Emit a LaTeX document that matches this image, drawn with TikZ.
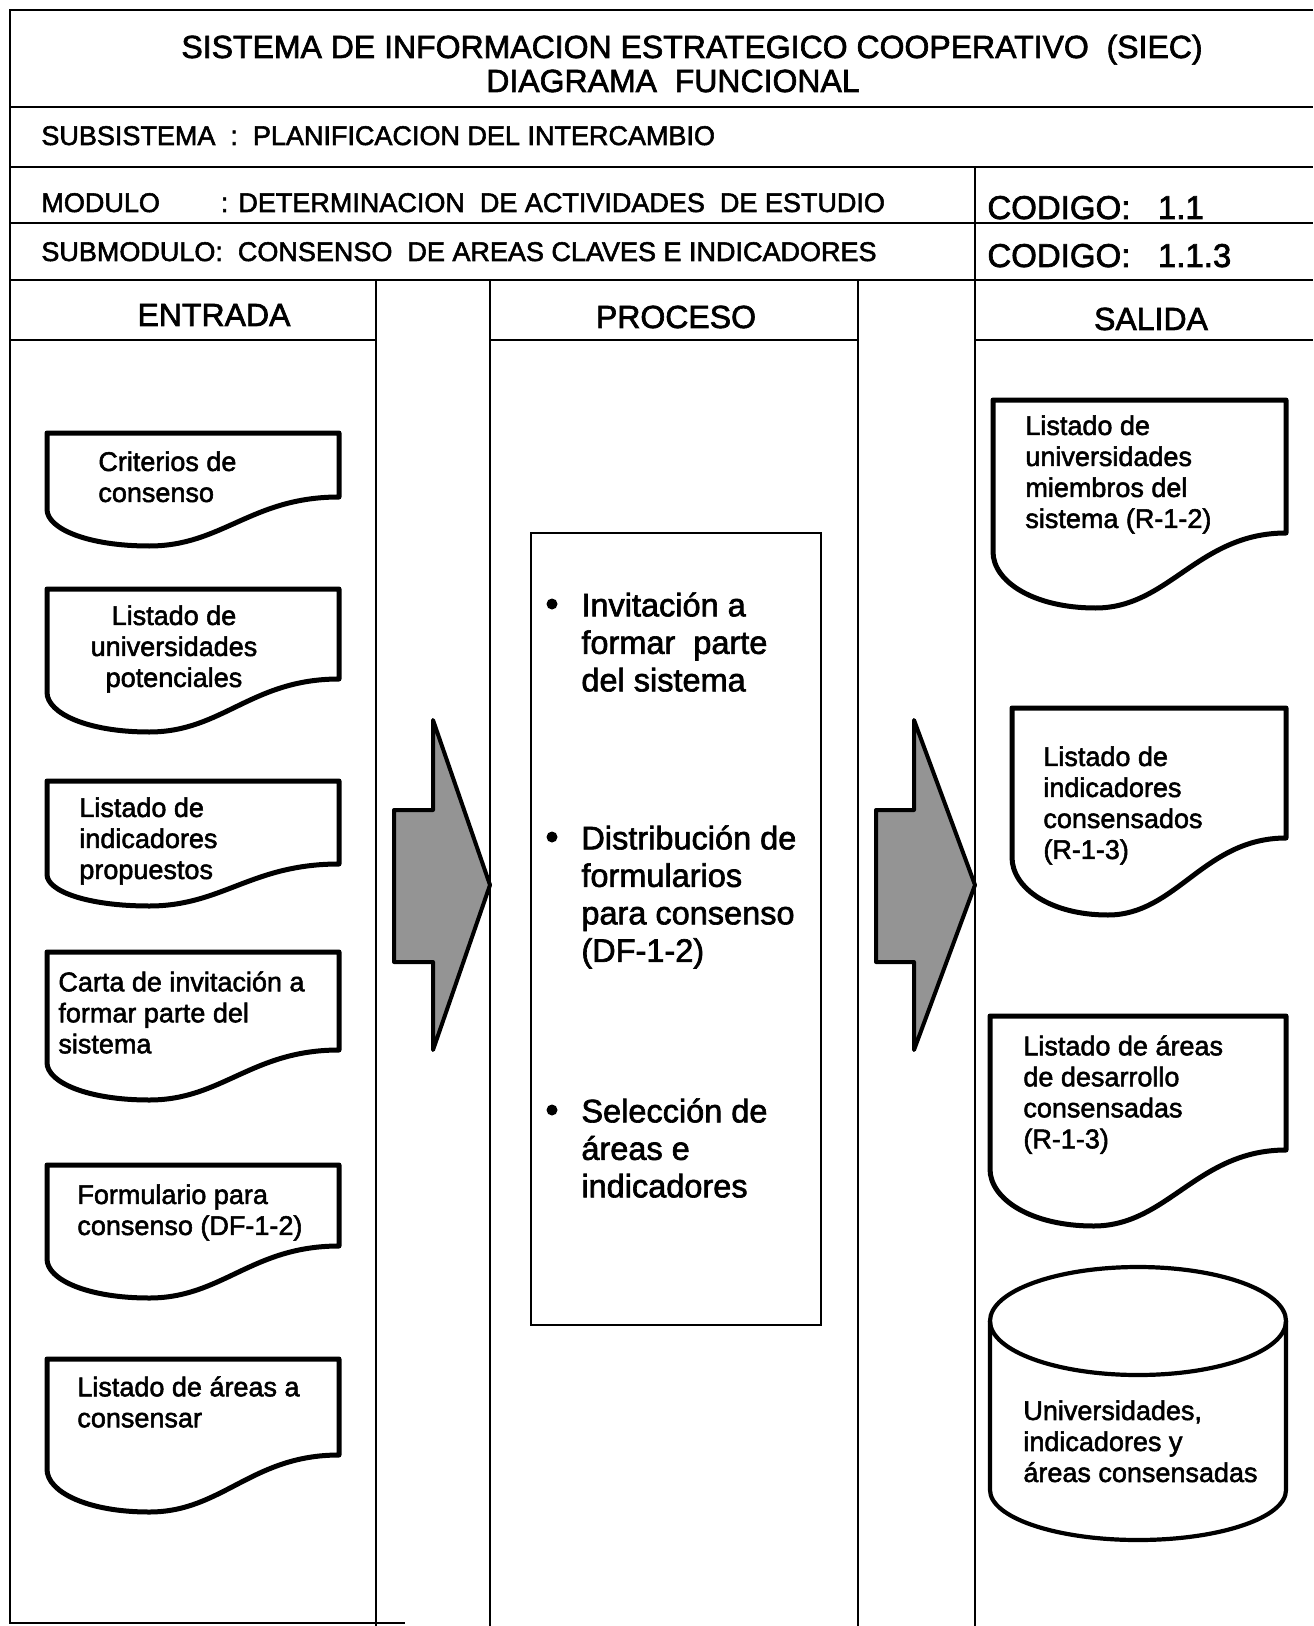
\documentclass[tikz,border=0pt]{standalone}
\usepackage{fontspec}
\setmainfont{Liberation Sans}[FakeBold=2]
% document symbol: left, top, right, y of right corner, y of wave trough
\newcommand\docsym[5]{%
  \draw[docline] (#1,#2) -- (#3,#2) -- (#3,#4)
    .. controls ({#3-0.3*(#3-#1)},#4) and ({#1+0.6*(#3-#1)},#5) .. ({#1+0.35*(#3-#1)},#5)
    .. controls ({#1+0.14*(#3-#1)},#5) and (#1,{#5-0.35*(#5-#4)}) .. (#1,{#4+0.25*(#5-#4)})
    -- cycle;}
\begin{document}
\begin{tikzpicture}[x=0.5pt,y=-0.5pt,
  rule/.style={line width=1.3pt},
  docline/.style={line width=2.5pt, line join=round},
  cylline/.style={line width=2.1pt},
  blockarrow/.style={line width=2pt, line join=round, fill=black!42},
  headtxt/.style={inner sep=0pt, anchor=base, font=\fontsize{16}{18}\selectfont},
  rowtxt/.style={inner sep=0pt, anchor=base west, font=\fontsize{13.5}{15.5}\selectfont},
  codetxt/.style={inner sep=0pt, anchor=base west, font=\fontsize{16.5}{19}\selectfont},
  doctxt/.style={inner sep=0pt, anchor=north west, align=left, font=\fontsize{13.5}{15.5}\selectfont},
  proctxt/.style={inner sep=0pt, anchor=north west, align=left, font=\fontsize{16.25}{18.75}\selectfont}]
\fill[white] (0,0) rectangle (1313,1626);
\useasboundingbox (0,0) rectangle (1313,1626);

% ---------- frame and header rows ----------
\draw[rule] (1313,10) -- (10,10) -- (10,1623) -- (405,1623);
\draw[rule] (10,107) -- (1313,107);
\draw[rule] (10,167) -- (1313,167);
\draw[rule] (10,223) -- (1313,223);
\draw[rule] (10,280) -- (1313,280);
\draw[rule] (975,167) -- (975,1626);
\draw[rule] (376,280) -- (376,1626);
\draw[rule] (490,280) -- (490,1626);
\draw[rule] (858,280) -- (858,1626);
\draw[rule] (10,340) -- (376,340);
\draw[rule] (490,340) -- (858,340);
\draw[rule] (975,340) -- (1313,340);

\node[headtxt] (title1) at (692,58) {SISTEMA DE INFORMACION ESTRATEGICO COOPERATIVO\ \ (SIEC)};
\node[headtxt] (title2) at (673,92) {DIAGRAMA\ \ FUNCIONAL};
\node[rowtxt] (subsis) at (41,145) {SUBSISTEMA\ \ :\ \ PLANIFICACION DEL INTERCAMBIO};
\node[rowtxt] (modulo) at (41,212) {\makebox[89.75pt][l]{MODULO}: DETERMINACION\ \ DE ACTIVIDADES\ \ DE ESTUDIO};
\node[rowtxt] (submod) at (41,261) {SUBMODULO:\ \ CONSENSO\ \ DE AREAS CLAVES E INDICADORES};
\node[codetxt] (cod1) at (987,219) {CODIGO:\ \ \ 1.1};
\node[codetxt] (cod2) at (987,267) {CODIGO:\ \ \ 1.1.3};

\node[headtxt] (entrada) at (214,326) {ENTRADA};
\node[headtxt] (proceso) at (676,328) {PROCESO};
\node[headtxt] (salida) at (1151,330) {SALIDA};

% ---------- inputs ----------
\docsym{47}{433}{339}{497}{546}
\node[doctxt] (in1) at (98,451) {Criterios de\\consenso};
\docsym{47}{589}{339}{679}{732}
\node[doctxt, anchor=north, align=center] (in2) at (174,605) {Listado de\\universidades\\potenciales};
\docsym{47}{781}{339}{864}{906}
\node[doctxt] (in3) at (79,797) {Listado de\\indicadores\\propuestos};
\docsym{47}{952}{339}{1050}{1100}
\node[doctxt] (in4) at (58,971) {Carta de invitación a\\formar parte del\\sistema};
\docsym{47}{1165}{339}{1246}{1298}
\node[doctxt] (in5) at (77,1184) {Formulario para\\consenso (DF-1-2)};
\docsym{47}{1359}{339}{1455}{1512}
\node[doctxt] (in6) at (77,1376) {Listado de áreas a\\consensar};

% ---------- flow arrows ----------
\draw[blockarrow] (394,810) -- (433,810) -- (433,720) -- (490,885) -- (433,1050) -- (433,962) -- (394,962) -- cycle;
\draw[blockarrow] (876,810) -- (914,810) -- (914,720) -- (975,885) -- (914,1050) -- (914,962) -- (876,962) -- cycle;

% ---------- process ----------
\draw[line width=1.2pt] (531,533) rectangle (821,1325);
\fill (552,604) circle[radius=5.5];
\node[proctxt] (p1) at (581,592) {Invitación a\\formar\ \ parte\\del sistema};
\fill (552,837) circle[radius=5.5];
\node[proctxt] (p2) at (581,825) {Distribución de\\formularios\\para consenso\\(DF-1-2)};
\fill (552,1110) circle[radius=5.5];
\node[proctxt] (p3) at (581,1098) {Selección de\\áreas e\\indicadores};

% ---------- outputs ----------
\docsym{993}{400}{1286}{533}{608}
\node[doctxt] (out1) at (1025,415) {Listado de\\universidades\\miembros del\\sistema (R-1-2)};
\docsym{1012}{708}{1286}{838}{915}
\node[doctxt] (out2) at (1043,746) {Listado de\\indicadores\\consensados\\(R-1-3)};
\docsym{990}{1016}{1286}{1150}{1226}
\node[doctxt] (out3) at (1023,1035) {Listado de áreas\\de desarrollo\\consensadas\\(R-1-3)};

% database
\draw[cylline] (990,1321) -- (990,1490)
  .. controls (990,1517.6) and (1056,1540) .. (1138,1540)
  .. controls (1220,1540) and (1286,1517.6) .. (1286,1490) -- (1286,1321);
\draw[cylline] (1138,1321) ellipse [x radius=148, y radius=54];
\node[doctxt] (db) at (1023,1400) {Universidades,\\indicadores y\\áreas consensadas};
\end{tikzpicture}
\end{document}
